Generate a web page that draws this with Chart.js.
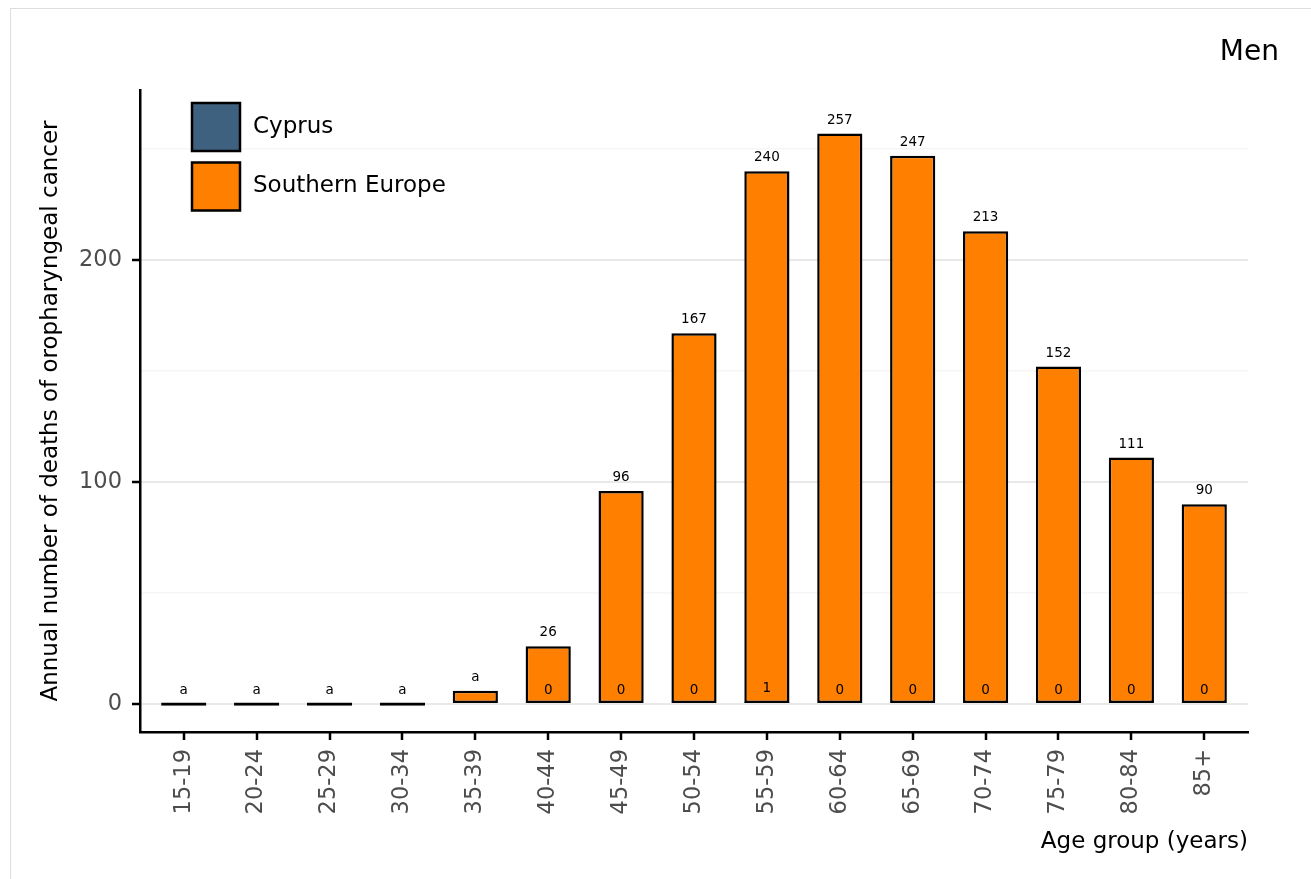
<!DOCTYPE html>
<html>
<head>
<meta charset="utf-8">
<script src="https://cdn.jsdelivr.net/npm/chart.js@4.4.1/dist/chart.umd.min.js"></script>
<style>
html, body { margin: 0; padding: 0; background: #fff; overflow: hidden; }
#frame { position: absolute; left: 10px; top: 8px; width: 1330px; height: 890px; border: 1px solid #dedede; box-sizing: border-box; }
#wrap { position: absolute; left: 0; top: 0; width: 1311px; height: 879px; }
</style>
</head>
<body>
<div id="frame"></div>
<div id="wrap"><canvas id="c" width="1311" height="879"></canvas></div>
<script>
// ---- data ----
const ageGroups = ['15-19','20-24','25-29','30-34','35-39','40-44','45-49','50-54','55-59','60-64','65-69','70-74','75-79','80-84','85+'];
const southernEurope = [0, 0, 0, 0, 6, 26, 96, 167, 240, 257, 247, 213, 152, 111, 90];
const southernEuropeLabels = ['a','a','a','a','a','26','96','167','240','257','247','213','152','111','90'];
const cyprus = [null, null, null, null, null, 0, 0, 0, 1, 0, 0, 0, 0, 0, 0];
const cyprusLabels = ['','','','','','0','0','0','1','0','0','0','0','0','0'];
const yTickValues = [0, 50, 100, 150, 200, 250];
const seriesNames = ['Cyprus', 'Southern Europe'];
const seriesColors = ['#3f6180', '#ff7f00'];
const panelTitle = 'Men';
const xTitle = 'Age group (years)';
const yTitle = 'Annual number of deaths of oropharyngeal cancer';

const FONT = '"DejaVu Sans", "Liberation Sans", sans-serif';
const isMajor = v => v % 100 === 0;

const valueLabels = {
  id: 'valueLabels',
  afterDatasetsDraw(chart) {
    const ctx = chart.ctx;
    const ys = chart.scales.y;
    ctx.save();
    ctx.font = '13.5px ' + FONT;
    ctx.fillStyle = '#000';
    ctx.textAlign = 'center';
    ctx.textBaseline = 'alphabetic';
    chart.data.datasets.forEach((ds, di) => {
      const meta = chart.getDatasetMeta(di);
      meta.data.forEach((bar, i) => {
        const t = ds.valueLabels[i];
        const v = ds.data[i].y;
        if (!t || v === null || v === undefined) return;
        ctx.fillText(t, bar.x, ys.getPixelForValue(v) - 10);
      });
    });
    ctx.restore();
  }
};

// short outward tick marks on both axes (ggplot style)
const axisTicks = {
  id: 'axisTicks',
  afterDraw(chart) {
    const ctx = chart.ctx;
    const a = chart.chartArea;
    const xs = chart.scales.x, ys = chart.scales.y;
    ctx.save();
    ctx.strokeStyle = '#000';
    ctx.lineWidth = 2.5;
    ctx.beginPath();
    xs.ticks.forEach(t => {
      const px = Math.round(xs.getPixelForValue(t.value));
      ctx.moveTo(px, a.bottom);
      ctx.lineTo(px, a.bottom + 8);
    });
    ys.ticks.forEach(t => {
      if (!isMajor(t.value)) return;
      const py = Math.round(ys.getPixelForValue(t.value));
      ctx.moveTo(a.left, py);
      ctx.lineTo(a.left - 8, py);
    });
    ctx.stroke();
    ctx.restore();
  }
};

const insideLegend = {
  id: 'insideLegend',
  afterDraw(chart) {
    const ctx = chart.ctx;
    const a = chart.chartArea;
    ctx.save();
    chart.data.datasets.forEach((ds, i) => {
      const x = a.left + 52, y = a.top + 13 + i * 59.5;
      ctx.fillStyle = ds.backgroundColor;
      ctx.fillRect(x, y, 48, 48);
      ctx.lineWidth = 2.5;
      ctx.strokeStyle = '#000';
      ctx.strokeRect(x, y, 48, 48);
      ctx.fillStyle = '#000';
      ctx.font = '23px ' + FONT;
      ctx.textAlign = 'left';
      ctx.textBaseline = 'middle';
      ctx.fillText(ds.label, x + 61, y + 24);
    });
    ctx.restore();
  }
};

const panelTitlePlugin = {
  id: 'panelTitle',
  afterDraw(chart) {
    const ctx = chart.ctx;
    ctx.save();
    ctx.font = '28px ' + FONT;
    ctx.fillStyle = '#000';
    ctx.textAlign = 'right';
    ctx.textBaseline = 'middle';
    ctx.fillText(panelTitle, 1279, 53);
    ctx.restore();
  }
};

new Chart(document.getElementById('c'), {
  type: 'bar',
  data: {
    datasets: [
      {
        label: seriesNames[0],
        data: cyprus.map((v, i) => ({ x: i, y: v })),
        valueLabels: cyprusLabels,
        backgroundColor: seriesColors[0],
        borderColor: '#000',
        borderWidth: 2.5,
        borderSkipped: false,
        grouped: false,
        order: 0,
        barPercentage: 0.62,
        categoryPercentage: 1
      },
      {
        label: seriesNames[1],
        data: southernEurope.map((v, i) => ({ x: i, y: v })),
        valueLabels: southernEuropeLabels,
        backgroundColor: seriesColors[1],
        borderColor: '#000',
        borderWidth: 2.5,
        borderSkipped: false,
        grouped: false,
        order: 1,
        minBarLength: 3.2,
        barPercentage: 0.62,
        categoryPercentage: 1
      }
    ]
  },
  options: {
    responsive: false,
    animation: false,
    layout: { padding: { left: 0, top: 90, right: 63, bottom: 0 } },
    plugins: { legend: { display: false }, tooltip: { enabled: false }, title: { display: false } },
    scales: {
      x: {
        type: 'linear',
        min: -0.6,
        max: 14.6,
        offset: false,
        afterBuildTicks: s => { s.ticks = ageGroups.map((_, i) => ({ value: i })); },
        afterFit: s => { s.height = 147; },
        ticks: {
          autoSkip: false,
          minRotation: 90,
          maxRotation: 90,
          padding: 9,
          color: '#4d4d4d',
          font: { family: FONT, size: 22.5 },
          callback: v => ageGroups[v]
        },
        grid: { display: false },
        border: { display: true, color: '#000', width: 2.5 },
        title: {
          display: true, text: xTitle, align: 'end', color: '#000',
          font: { family: FONT, size: 23 }, padding: { top: 0, bottom: 23 }
        }
      },
      y: {
        min: -12.6,
        max: 276.6,
        afterBuildTicks: s => { s.ticks = yTickValues.map(v => ({ value: v })); },
        afterFit: s => { s.width = 140; },
        ticks: {
          padding: 18,
          color: '#4d4d4d',
          font: { family: FONT, size: 22.5 },
          callback: v => isMajor(v) ? String(v) : ''
        },
        grid: {
          color: c => (c.tick && isMajor(c.tick.value)) ? '#e9e9e9' : '#f6f6f6',
          lineWidth: c => (c.tick && isMajor(c.tick.value)) ? 2 : 1.5,
          drawTicks: false
        },
        border: { display: true, color: '#000', width: 2.5 },
        title: {
          display: true, text: yTitle, color: '#000',
          font: { family: FONT, size: 23 }, padding: { top: 37, bottom: 0 }
        }
      }
    }
  },
  plugins: [valueLabels, axisTicks, insideLegend, panelTitlePlugin]
});
</script>
</body>
</html>
